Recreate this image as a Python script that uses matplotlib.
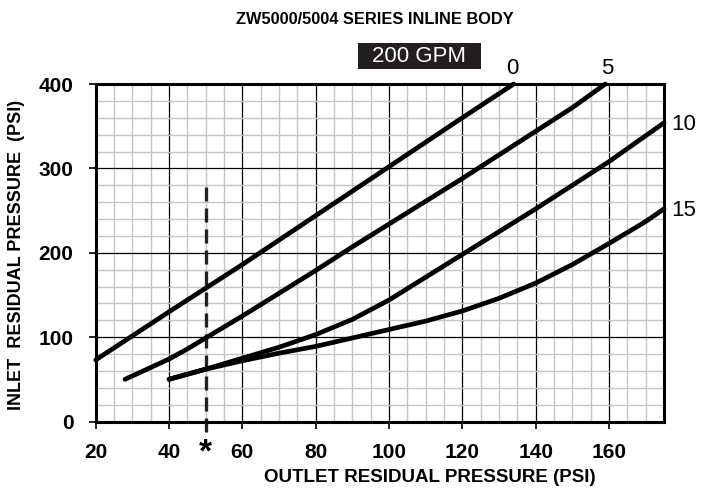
import matplotlib
matplotlib.use("Agg")
import matplotlib.pyplot as plt
from matplotlib.ticker import MultipleLocator
from matplotlib.patches import Rectangle

plt.rcParams['font.family'] = ['Liberation Sans', 'DejaVu Sans']

# ---- data ----
x0 = [20, 40, 60, 80, 100, 120, 134]
y0 = [73, 130, 186, 244, 302, 360, 400]

x5 = [28, 35, 40, 45, 50, 55, 60, 70, 80, 90, 100, 110, 120, 130, 140, 150, 159]
y5 = [50, 64, 74, 86, 99, 112, 125, 152, 179, 207, 234, 261, 288, 316, 344, 372, 400]

x10 = [40, 50, 60, 70, 80, 90, 100, 110, 120, 130, 140, 150, 160, 175]
y10 = [50, 62, 75, 88, 103, 121, 144, 171, 198, 225, 252, 280, 308, 354]

x15 = [40, 50, 60, 70, 80, 90, 100, 110, 120, 130, 140, 150, 160, 170, 175]
y15 = [50, 62, 72, 81, 89, 99, 109, 119, 131, 146, 164, 186, 211, 237, 252]

curve_labels = ["0", "5", "10", "15"]
x_ticks = [20, 40, 60, 80, 100, 120, 140, 160]
y_ticks = [0, 100, 200, 300, 400]
dash_x = 50
dash_top = 281

W, H = 711, 495
fig = plt.figure(figsize=(W / 100, H / 100), dpi=100)
ax = fig.add_axes([95.7 / W, 1 - 421.5 / H, (664 - 95.7) / W, (421.5 - 84) / H])
ax.set_xlim(20, 175)
ax.set_ylim(0, 400)

ax.xaxis.set_minor_locator(MultipleLocator(5))
ax.yaxis.set_minor_locator(MultipleLocator(20))
ax.set_xticks(x_ticks)
ax.set_yticks(y_ticks)
ax.grid(which='minor', color='#c4c4c4', lw=1.0, zorder=0)
ax.grid(which='major', color='black', lw=0.9, zorder=1)
ax.tick_params(which='minor', length=0)
ax.tick_params(which='major', direction='out', length=5, width=1.2,
               labelsize=15)
ax.tick_params(axis='x', pad=10.5)
ax.tick_params(axis='y', pad=11)
for lab in ax.get_xticklabels() + ax.get_yticklabels():
    lab.set_fontweight('bold')
for s in ax.spines.values():
    s.set_linewidth(2.2)
    s.set_zorder(5)

for xs, ys in [(x0, y0), (x5, y5), (x10, y10), (x15, y15)]:
    ax.plot(xs, ys, color='black', lw=3.4, solid_capstyle='round',
            solid_joinstyle='round', zorder=4, clip_on=False)

ax.plot([dash_x, dash_x], [-13, dash_top], color='#222222', lw=2.4,
        dashes=(4.2, 2.1), zorder=3, clip_on=False)
fig.text(205.7 / W, 1 - 453 / H, "*", ha='center', va='center', fontsize=24,
         fontweight='bold')

ax.text(133.7, 406, curve_labels[0], ha='center', va='bottom', fontsize=16)
ax.text(159.5, 406, curve_labels[1], ha='center', va='bottom', fontsize=16)
ax.text(177, 352, curve_labels[2], ha='left', va='center', fontsize=16)
ax.text(177, 250, curve_labels[3], ha='left', va='center', fontsize=16)

fig.text(430 / W, 1 - 478 / H, "OUTLET RESIDUAL PRESSURE (PSI)", ha='center',
         va='center', fontsize=13.5, fontweight='bold')
fig.text(17 / W, 1 - 255 / H, "INLET  RESIDUAL PRESSURE  (PSI)", ha='center',
         va='center', rotation=90, fontsize=13, fontweight='bold')

fig.text(375 / W, 1 - 20 / H, "ZW5000/5004 SERIES INLINE BODY", ha='center',
         va='center', fontsize=11.8, fontweight='bold')
fig.patches.append(Rectangle((358 / W, 1 - 69 / H), 123 / W, 26 / H,
                             transform=fig.transFigure, fc='#231f20',
                             ec='none'))
fig.text(419.5 / W, 1 - 56.5 / H, "200 GPM", ha='center', va='center',
         fontsize=16, color='white')

fig.savefig("out.png", dpi=100)
